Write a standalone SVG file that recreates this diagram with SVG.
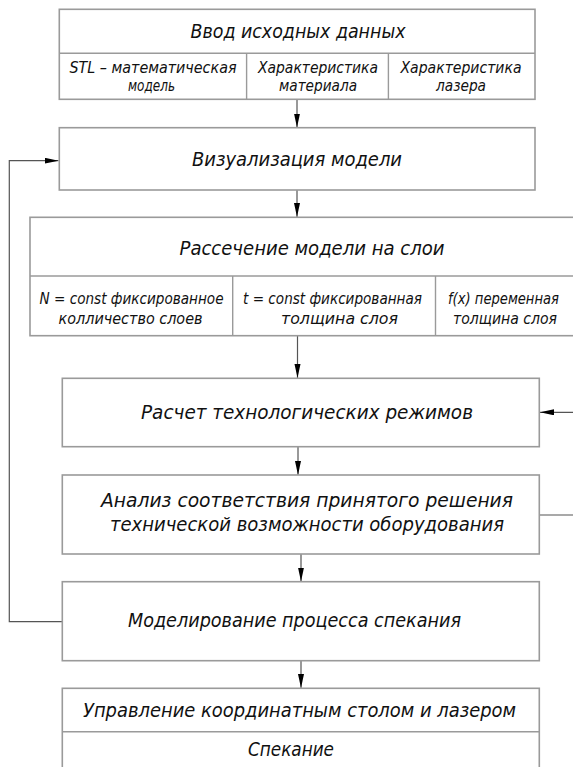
<svg xmlns="http://www.w3.org/2000/svg" width="573" height="767" viewBox="0 0 573 767">
<style>
.box{fill:#fff;stroke:#9a9a9a;stroke-width:1.6}
.div{fill:none;stroke:#9a9a9a;stroke-width:1.4}
.con{fill:none;stroke:#555;stroke-width:1.2}
text{font-family:"DejaVu Sans Condensed","DejaVu Sans","Liberation Sans",sans-serif;font-style:italic;fill:#111;text-anchor:middle}
.t{font-size:20px}
.s{font-size:15.5px}
</style>
<defs>
<marker id="ah" markerUnits="userSpaceOnUse" markerWidth="16" markerHeight="8" refX="14" refY="3" orient="auto">
<path d="M0,0 L14,3 L0,6 Z" fill="#000"/>
</marker>
</defs>
<rect width="573" height="767" fill="#fff"/>
<g id="connectors">
<line class="con" x1="297" y1="99.5" x2="297" y2="127.5" marker-end="url(#ah)"/>
<line class="con" x1="297" y1="190" x2="297" y2="217" marker-end="url(#ah)"/>
<line class="con" x1="297.5" y1="336" x2="297.5" y2="378" marker-end="url(#ah)"/>
<line class="con" x1="298" y1="447" x2="298" y2="475" marker-end="url(#ah)"/>
<line class="con" x1="301" y1="554" x2="301" y2="581.5" marker-end="url(#ah)"/>
<line class="con" x1="301" y1="661" x2="301" y2="688" marker-end="url(#ah)"/>
<path class="con" d="M62,621.7 H9.3 V160.7 H58.5" marker-end="url(#ah)"/>
<path class="con" d="M539.5,515 H585 V412.3 H540" marker-end="url(#ah)"/>
</g>
<g id="node-input">
<rect class="box" x="59.3" y="9.3" width="475.7" height="90"/>
<line class="div" x1="59.3" y1="53.3" x2="535" y2="53.3"/>
<line class="div" x1="246.6" y1="53.3" x2="246.6" y2="99.3"/>
<line class="div" x1="388.4" y1="53.3" x2="388.4" y2="99.3"/>
<text class="t" x="298" y="38" textLength="215" lengthAdjust="spacingAndGlyphs">Ввод исходных данных</text>
<text class="s" x="153" y="73" textLength="167" lengthAdjust="spacingAndGlyphs">STL – математическая</text>
<text class="s" x="151.5" y="91" textLength="47" lengthAdjust="spacingAndGlyphs">модель</text>
<text class="s" x="318" y="73" textLength="120" lengthAdjust="spacingAndGlyphs">Характеристика</text>
<text class="s" x="318" y="91" textLength="78" lengthAdjust="spacingAndGlyphs">материала</text>
<text class="s" x="461" y="73" textLength="121" lengthAdjust="spacingAndGlyphs">Характеристика</text>
<text class="s" x="461" y="91" textLength="50" lengthAdjust="spacingAndGlyphs">лазера</text>
</g>
<g id="node-visual">
<rect class="box" x="59.3" y="127.7" width="475.7" height="62.3"/>
<text class="t" x="297" y="166" textLength="210" lengthAdjust="spacingAndGlyphs">Визуализация модели</text>
</g>
<g id="node-slice">
<rect class="box" x="30" y="217.3" width="560" height="118.4"/>
<line class="div" x1="30" y1="276" x2="590" y2="276"/>
<line class="div" x1="232.7" y1="276" x2="232.7" y2="335.7"/>
<line class="div" x1="435.5" y1="276" x2="435.5" y2="335.7"/>
<text class="t" x="312" y="255" textLength="265" lengthAdjust="spacingAndGlyphs">Рассечение модели на слои</text>
<text class="s" x="131.5" y="304" textLength="184" lengthAdjust="spacingAndGlyphs">N = const фиксированное</text>
<text class="s" x="130.5" y="324" textLength="144" lengthAdjust="spacingAndGlyphs">колличество слоев</text>
<text class="s" x="332.5" y="304" textLength="179" lengthAdjust="spacingAndGlyphs">t = const фиксированная</text>
<text class="s" x="339.5" y="324" textLength="117" lengthAdjust="spacingAndGlyphs">толщина слоя</text>
<text class="s" x="503.5" y="304" textLength="111" lengthAdjust="spacingAndGlyphs">f(x) переменная</text>
<text class="s" x="505" y="324" textLength="104" lengthAdjust="spacingAndGlyphs">толщина слоя</text>
</g>
<g id="node-calc">
<rect class="box" x="62.3" y="378.3" width="477" height="68.4"/>
<text class="t" x="307" y="419" textLength="332" lengthAdjust="spacingAndGlyphs">Расчет технологических режимов</text>
</g>
<g id="node-analysis">
<rect class="box" x="62.3" y="475" width="477" height="79"/>
<text class="t" x="307" y="507" textLength="412" lengthAdjust="spacingAndGlyphs">Анализ соответствия принятого решения</text>
<text class="t" x="307" y="531" textLength="394" lengthAdjust="spacingAndGlyphs">технической возможности оборудования</text>
</g>
<g id="node-model">
<rect class="box" x="62.3" y="581.7" width="477" height="79"/>
<text class="t" x="294.5" y="627" textLength="333" lengthAdjust="spacingAndGlyphs">Моделирование процесса спекания</text>
</g>
<g id="node-control">
<rect class="box" x="62.3" y="688.3" width="477" height="90"/>
<line class="div" x1="62.3" y1="731.7" x2="539.3" y2="731.7"/>
<text class="t" x="299.5" y="717" textLength="433" lengthAdjust="spacingAndGlyphs">Управление координатным столом и лазером</text>
<text class="t" x="291" y="756" textLength="86" lengthAdjust="spacingAndGlyphs">Спекание</text>
</g>
</svg>
